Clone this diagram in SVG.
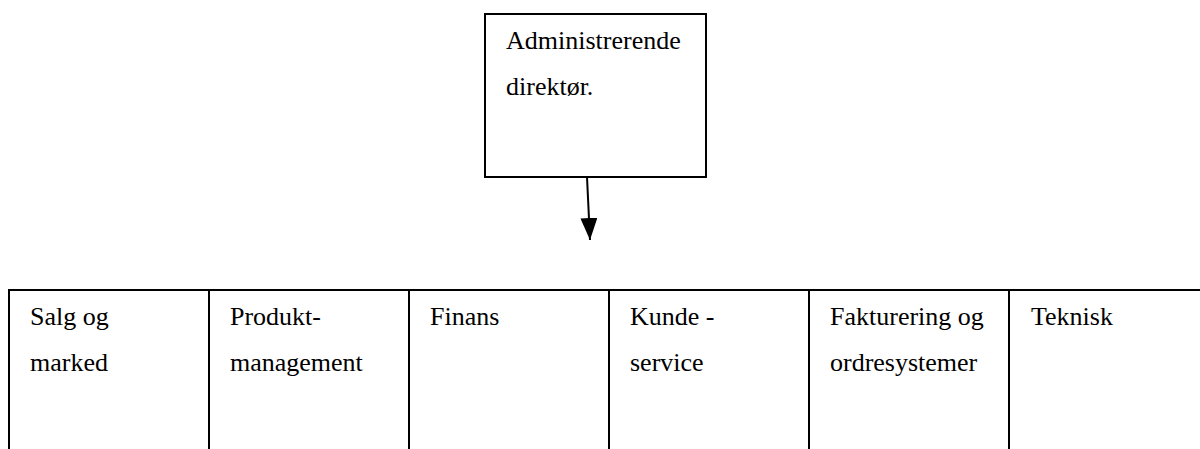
<svg xmlns="http://www.w3.org/2000/svg" width="1200" height="449" viewBox="0 0 1200 449">
<style>
.box{fill:#fff;stroke:#000;stroke-width:2}
.ln{stroke:#000;stroke-width:2;fill:none}
.t{font-family:"Liberation Serif","Times New Roman",serif;font-size:26px;fill:#000}
</style>
<defs>
<marker id="ah" markerUnits="userSpaceOnUse" markerWidth="22" markerHeight="17" refX="22" refY="8.5" orient="auto">
<path d="M0,0 L22,8.5 L0,17 Z" fill="#000"/>
</marker>
</defs>
<rect width="1200" height="449" fill="#fff"/>
<g id="ceo">
<rect class="box" x="485" y="14" width="221" height="163"/>
<text class="t" x="506" y="49">Administrerende</text>
<text class="t" x="506" y="95">direktør.</text>
</g>
<g id="connectors">
<line class="ln" x1="587" y1="177" x2="590" y2="240" marker-end="url(#ah)"/>
</g>
<g id="table">
<line class="ln" x1="8" y1="290" x2="1200" y2="290"/>
</g>
<g id="salg">
<line class="ln" x1="9" y1="289" x2="9" y2="449"/>
<text class="t" x="30" y="325">Salg og</text>
<text class="t" x="30" y="371">marked</text>
</g>
<g id="produkt">
<line class="ln" x1="209" y1="289" x2="209" y2="449"/>
<text class="t" x="230" y="325">Produkt-</text>
<text class="t" x="230" y="371">management</text>
</g>
<g id="finans">
<line class="ln" x1="409" y1="289" x2="409" y2="449"/>
<text class="t" x="430" y="325">Finans</text>
</g>
<g id="kunde">
<line class="ln" x1="609" y1="289" x2="609" y2="449"/>
<text class="t" x="630" y="325">Kunde -</text>
<text class="t" x="630" y="371">service</text>
</g>
<g id="faktura">
<line class="ln" x1="809" y1="289" x2="809" y2="449"/>
<text class="t" x="830" y="325">Fakturering og</text>
<text class="t" x="830" y="371">ordresystemer</text>
</g>
<g id="teknisk">
<line class="ln" x1="1009" y1="289" x2="1009" y2="449"/>
<text class="t" x="1031" y="325">Teknisk</text>
</g>
</svg>
